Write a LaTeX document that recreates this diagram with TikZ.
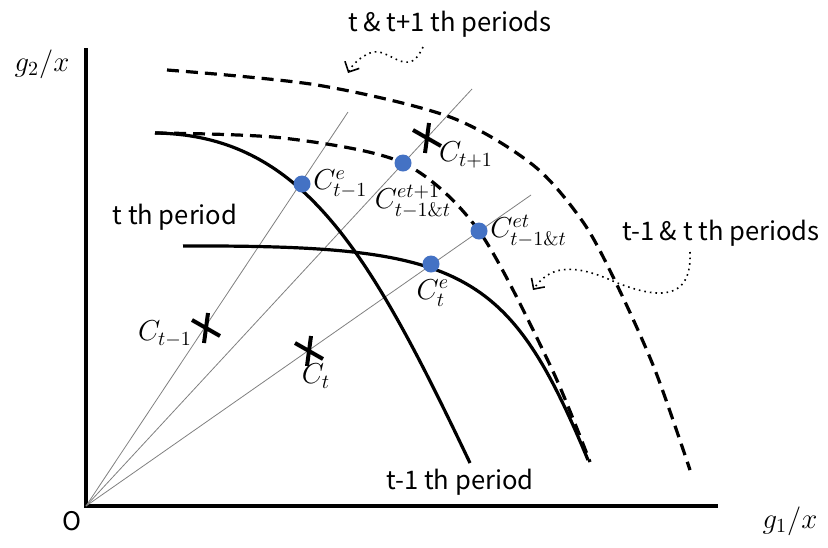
\documentclass[tikz,border=0pt]{standalone}
\usepackage{fontspec}
\newfontfamily\labelfont{Noto Sans CJK JP}
\usetikzlibrary{arrows.meta}

\definecolor{dotblue}{HTML}{4472C4}

\tikzset{
  axis/.style={line width=2pt, line join=miter},
  ray/.style={gray, line width=0.4pt},
  frontier/.style={line width=1.6pt},
  shifted/.style={line width=1.6pt, dash pattern=on 6pt off 3.5pt},
  dotarrow/.style={line width=0.8pt, dotted, -{Straight Barb[length=4pt,width=8pt]}},
  eqdot/.style={circle, fill=dotblue, inner sep=0pt, minimum size=8.5pt},
  txt/.style={font=\labelfont\fontsize{12.8}{15}\selectfont},
  lbl/.style={font=\fontsize{14}{16}\selectfont, inner sep=1pt},
  xmark/.pic={
    \draw[line width=2pt] (-14,-8) -- (14,8);
    \draw[line width=2pt] (2,-15) -- (-2,15);
  }
}

\begin{document}
\begin{tikzpicture}[x=0.5pt, y=-0.5pt]
    \useasboundingbox (0,0) rectangle (828,547);

    % axes
    \coordinate (O) at (86,506);
    \coordinate (ytop) at (86,48);
    \coordinate (xend) at (718,506);
    \draw[axis] (ytop) -- (O) -- (xend);
    \node[lbl] (g2) at (42,64) {$g_2/x$};
    \node[lbl] (g1) at (790,521) {$g_1/x$};
    \node[txt] (orig) at (72,521) {O};

    % rays from the origin
    \coordinate (r1) at (348,112);
    \coordinate (r2) at (472,89);
    \coordinate (r3) at (531,195);
    \draw[ray] (O) -- (r1);
    \draw[ray] (O) -- (r2);
    \draw[ray] (O) -- (r3);

    % t-1 th period and t th period
    \draw[frontier] (155,133) .. controls (303,135) and (370,253) .. (470,463);
    \draw[frontier] (183,246) .. controls (463,245) and (508,268) .. (588,460);

    % shifted frontiers (dashed)
    \draw[shifted] plot[smooth] coordinates {(155,133) (283,138) (403,163) (479,231) (550,365) (590,462)};
    \draw[shifted] plot[smooth] coordinates {(167,70) (317,85) (450,117) (533,165) (583,222) (617,285) (655,370) (690,470)};

    % equilibrium points
    \node[eqdot] (etm) at (302,184) {};
    \node[eqdot] (etp) at (403,163) {};
    \node[eqdot] (ett) at (479,231) {};
    \node[eqdot] (et) at (431,264) {};
    \node[lbl, anchor=west] at (etm.east) {$C^{e}_{t-1}$};
    \node[lbl] at (413,201) {$C^{et+1}_{t-1\&t}$};
    \node[lbl, anchor=west] at (ett.east) {$C^{et}_{t-1\&t}$};
    \node[lbl] at (433,293) {$C^{e}_{t}$};

    % consumption points
    \pic at (206,328) {xmark};
    \pic at (309,351) {xmark};
    \pic at (427,138) {xmark};
    \node[lbl] (ctm) at (165,334) {$C_{t-1}$};
    \node[lbl] (ct) at (316,376) {$C_{t}$};
    \node[lbl] (ctp) at (466,155) {$C_{t+1}$};

    % period labels
    \node[txt] (tp) at (175,217) {t th period};
    \node[txt] (tmp) at (460,482) {t-1 th period};
    \node[txt] (ttp) at (450,24) {t \& t+1 th periods};
    \node[txt] (tmtp) at (721,233) {t-1 \& t th periods};

    % pointers
    \draw[dotarrow] (423,47) .. controls (416,62) and (410,64) .. (400,61)
        .. controls (388,56) and (380,49) .. (370,53)
        .. controls (360,57) and (352,65) .. (348,73);
    \draw[dotarrow] (690,252) .. controls (692,300) and (660,300) .. (615,282)
        .. controls (580,266) and (552,262) .. (533,290);
\end{tikzpicture}
\end{document}
